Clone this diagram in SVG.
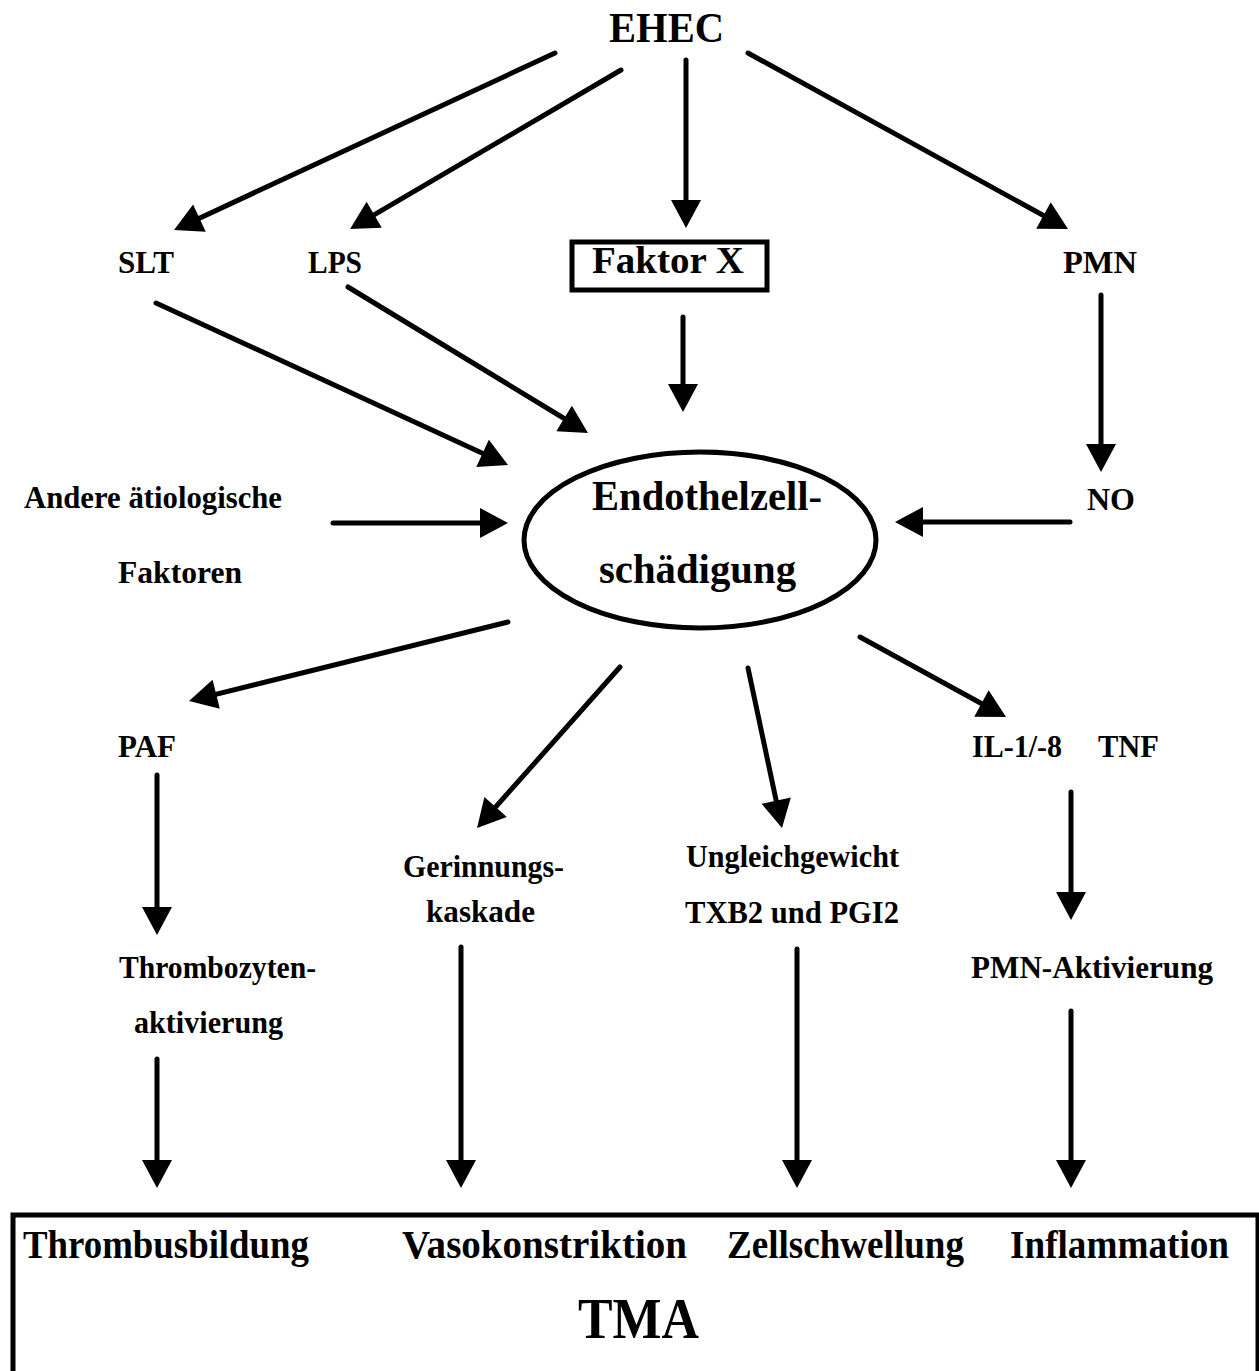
<svg xmlns="http://www.w3.org/2000/svg" width="1259" height="1371" viewBox="0 0 1259 1371">
<style>
text{font-family:"Liberation Serif","Times New Roman",serif;font-weight:bold;fill:#000}
.m{font-size:32px}
.b{font-size:39px}
.big{font-size:42px}
.c{stroke:#000;stroke-width:5;stroke-linecap:round;fill:none}
.box{stroke:#000;stroke-width:5;fill:none}
</style>
<defs>
<marker id="ah" markerUnits="userSpaceOnUse" markerWidth="30" markerHeight="30" refX="16" refY="15" orient="auto" viewBox="0 0 28 30">
<path d="M0,0 L28,15 L0,30 z" fill="#000"/>
</marker>
</defs>
<rect width="1259" height="1371" fill="#fff"/>
<g id="connectors" class="c" marker-end="url(#ah)">
<line x1="555" y1="53" x2="184.9" y2="224.9"/>
<line x1="621" y1="70" x2="360.4" y2="222.9"/>
<line x1="686" y1="60" x2="686" y2="216"/>
<line x1="748" y1="53" x2="1057.5" y2="223.2"/>
<line x1="156" y1="303" x2="497.1" y2="460"/>
<line x1="348" y1="287" x2="577.75" y2="426.76"/>
<line x1="683" y1="317" x2="683" y2="400"/>
<line x1="1101" y1="295" x2="1101" y2="460"/>
<line x1="1070" y1="522" x2="907" y2="522"/>
<line x1="333" y1="523" x2="496" y2="523"/>
<line x1="508" y1="622" x2="200.65" y2="698.1"/>
<line x1="620" y1="667" x2="485" y2="819"/>
<line x1="748" y1="668" x2="779.5" y2="816.3"/>
<line x1="860" y1="637" x2="995.5" y2="711.2"/>
<line x1="157" y1="775" x2="157" y2="923"/>
<line x1="157" y1="1059" x2="157" y2="1176"/>
<line x1="461" y1="947" x2="461" y2="1176"/>
<line x1="797" y1="949" x2="797" y2="1176"/>
<line x1="1071" y1="792" x2="1071" y2="908"/>
<line x1="1071" y1="1011" x2="1071" y2="1176"/>
</g>
<g id="ehec"><text x="609" y="42" class="big" textLength="115" lengthAdjust="spacingAndGlyphs">EHEC</text></g>
<g id="slt"><text x="118" y="273" class="m" textLength="56" lengthAdjust="spacingAndGlyphs">SLT</text></g>
<g id="lps"><text x="308" y="273" class="m" textLength="54" lengthAdjust="spacingAndGlyphs">LPS</text></g>
<g id="faktorx"><rect x="572" y="242" width="195" height="48" class="box"/><text x="592" y="273" style="font-size:38px" textLength="152" lengthAdjust="spacingAndGlyphs">Faktor X</text></g>
<g id="pmn"><text x="1063" y="273" class="m" textLength="74" lengthAdjust="spacingAndGlyphs">PMN</text></g>
<g id="no"><text x="1087" y="510" class="m" textLength="48" lengthAdjust="spacingAndGlyphs">NO</text></g>
<g id="andere"><text x="24" y="508" class="m" textLength="258" lengthAdjust="spacingAndGlyphs">Andere ätiologische</text><text x="118" y="583" class="m" textLength="124" lengthAdjust="spacingAndGlyphs">Faktoren</text></g>
<g id="endothel"><ellipse cx="700" cy="540" rx="176" ry="88" class="box"/><text x="592" y="510" class="big" textLength="230" lengthAdjust="spacingAndGlyphs">Endothelzell-</text><text x="599" y="583" class="big" textLength="197" lengthAdjust="spacingAndGlyphs">schädigung</text></g>
<g id="paf"><text x="118" y="757" class="m" textLength="58" lengthAdjust="spacingAndGlyphs">PAF</text></g>
<g id="il"><text x="972" y="757" class="m" textLength="90" lengthAdjust="spacingAndGlyphs">IL-1/-8</text><text x="1098" y="757" class="m" textLength="61" lengthAdjust="spacingAndGlyphs">TNF</text></g>
<g id="gerinnung"><text x="403" y="877" class="m" textLength="161" lengthAdjust="spacingAndGlyphs">Gerinnungs-</text><text x="426" y="922" class="m" textLength="109" lengthAdjust="spacingAndGlyphs">kaskade</text></g>
<g id="ungleich"><text x="686" y="867" class="m" textLength="213" lengthAdjust="spacingAndGlyphs">Ungleichgewicht</text><text x="685" y="923" class="m" textLength="214" lengthAdjust="spacingAndGlyphs">TXB2 und PGI2</text></g>
<g id="thrombozyten"><text x="119" y="978" class="m" textLength="197" lengthAdjust="spacingAndGlyphs">Thrombozyten-</text><text x="134" y="1033" class="m" textLength="149" lengthAdjust="spacingAndGlyphs">aktivierung</text></g>
<g id="pmnakt"><text x="971" y="978" class="m" textLength="242" lengthAdjust="spacingAndGlyphs">PMN-Aktivierung</text></g>
<g id="tma">
<rect x="13" y="1215" width="1245" height="200" class="box"/>
<text x="23" y="1258" class="b" textLength="286" lengthAdjust="spacingAndGlyphs">Thrombusbildung</text>
<text x="402" y="1258" class="b" textLength="285" lengthAdjust="spacingAndGlyphs">Vasokonstriktion</text>
<text x="727" y="1258" class="b" textLength="237" lengthAdjust="spacingAndGlyphs">Zellschwellung</text>
<text x="1010" y="1258" class="b" textLength="219" lengthAdjust="spacingAndGlyphs">Inflammation</text>
<text x="578" y="1338" style="font-size:56px" textLength="121" lengthAdjust="spacingAndGlyphs">TMA</text>
</g>
</svg>
